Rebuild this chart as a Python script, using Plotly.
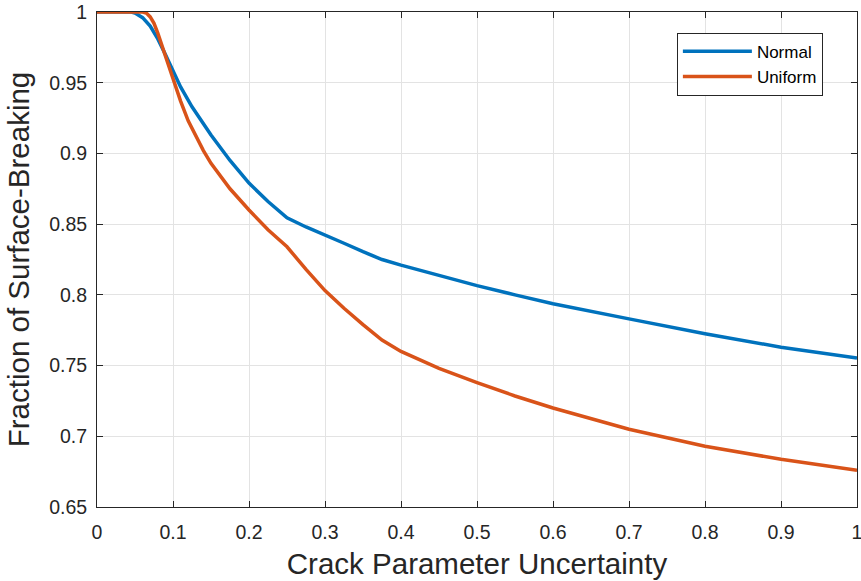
import plotly.graph_objects as go

# Crack parameter uncertainty (x) and fraction of surface-breaking cracks (y)
normal_x = [0, 0.045, 0.05, 0.06, 0.07, 0.08, 0.09, 0.1, 0.11, 0.125, 0.15, 0.175,
            0.2, 0.225, 0.25, 0.275, 0.3, 0.325, 0.35, 0.375, 0.4, 0.45, 0.5,
            0.55, 0.6, 0.7, 0.8, 0.9, 1.0]
normal_y = [1.0, 1.0, 0.9993, 0.996, 0.990, 0.981, 0.970, 0.958, 0.947, 0.933, 0.913, 0.895,
            0.879, 0.866, 0.8545, 0.848, 0.8425, 0.8365, 0.8305, 0.825, 0.821, 0.8135, 0.8065,
            0.800, 0.7937, 0.783, 0.7725, 0.763, 0.7553]

uniform_x = [0, 0.06, 0.065, 0.07, 0.075, 0.08, 0.09, 0.1, 0.11, 0.12, 0.13, 0.14, 0.15,
             0.175, 0.2, 0.225, 0.25, 0.275, 0.3, 0.325, 0.35, 0.375, 0.4, 0.45, 0.5,
             0.55, 0.6, 0.7, 0.8, 0.9, 1.0]
uniform_y = [1.0, 1.0, 0.9992, 0.9965, 0.992, 0.985, 0.969, 0.952, 0.937, 0.923, 0.912, 0.902,
             0.893, 0.875, 0.860, 0.846, 0.834, 0.818, 0.803, 0.7905, 0.779, 0.768, 0.760,
             0.748, 0.738, 0.7285, 0.720, 0.705, 0.693, 0.6837, 0.676]

x_ticks = [0, 0.1, 0.2, 0.3, 0.4, 0.5, 0.6, 0.7, 0.8, 0.9, 1]
x_ticktext = ["0", "0.1", "0.2", "0.3", "0.4", "0.5", "0.6", "0.7", "0.8", "0.9", "1"]
y_ticks = [0.65, 0.7, 0.75, 0.8, 0.85, 0.9, 0.95, 1]
y_ticktext = ["0.65", "0.7", "0.75", "0.8", "0.85", "0.9", "0.95", "1"]

FONT = "Liberation Sans, Arial, Helvetica, sans-serif"
INK = "#262626"

fig = go.Figure()
fig.add_trace(go.Scatter(x=normal_x, y=normal_y, mode="lines", name="Normal",
                         line=dict(color="#0072BD", width=3.5)))
fig.add_trace(go.Scatter(x=uniform_x, y=uniform_y, mode="lines", name="Uniform",
                         line=dict(color="#D95319", width=3.5)))

axis_common = dict(
    showline=True, linecolor=INK, linewidth=1, mirror="ticks",
    ticks="inside", ticklen=6, tickwidth=1, tickcolor=INK,
    showgrid=True, gridcolor="#e3e3e3", gridwidth=1,
    zeroline=False, tickfont=dict(family=FONT, size=19.5, color=INK),
    ticklabeloverflow="allow",
)

fig.update_xaxes(range=[0, 1], tickvals=x_ticks, ticktext=x_ticktext,
                 title=dict(text="Crack Parameter Uncertainty",
                            font=dict(family=FONT, size=29.5, color=INK), standoff=10),
                 ticklabelstandoff=8, **axis_common)
fig.update_yaxes(range=[0.65, 1], tickvals=y_ticks, ticktext=y_ticktext,
                 title=dict(text="Fraction of Surface-Breaking",
                            font=dict(family=FONT, size=29.5, color=INK), standoff=10),
                 ticklabelstandoff=5, **axis_common)

fig.update_layout(
    width=861, height=581,
    margin=dict(l=97, r=4, t=12, b=74, autoexpand=False),
    paper_bgcolor="white", plot_bgcolor="white",
    font=dict(family=FONT, color=INK),
    legend=dict(x=0.763, y=0.958, xanchor="left", yanchor="top",
                bgcolor="white", bordercolor=INK, borderwidth=1,
                font=dict(family=FONT, size=17, color="black"),
                itemwidth=69, entrywidth=150, entrywidthmode="pixels",
                tracegroupgap=0),
    showlegend=True,
)

fig.write_html("out.html")
